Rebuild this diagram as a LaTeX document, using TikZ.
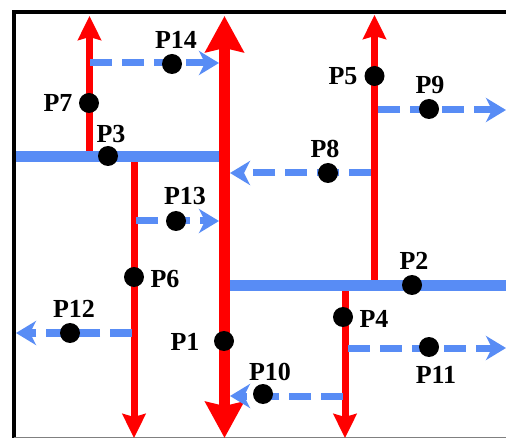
\documentclass[tikz,border=0pt]{standalone}
\usepackage{fontspec}
\setmainfont{Liberation Serif}
\usetikzlibrary{arrows.meta}
\definecolor{flowred}{RGB}{255,0,0}
\definecolor{flowblue}{RGB}{88,140,245}
\begin{document}
\begin{tikzpicture}[x=1pt,y=-1pt,
  dot/.style={circle,fill=black,minimum size=20pt,inner sep=0pt},
  lbl/.style={font=\fontsize{26}{30}\selectfont\bfseries,inner sep=0pt},
  trunk/.style={draw=flowred,line width=11pt,
    {Stealth[length=36pt,width=38pt,inset=4pt]}-{Stealth[length=36pt,width=38pt,inset=4pt]}},
  branch/.style={draw=flowred,line width=7pt},
  branchtip/.style={branch,-{Stealth[length=24pt,width=23pt,inset=3pt]}},
  wall/.style={draw=flowblue,line width=11pt},
  leak/.style={draw=flowblue,line width=7pt,dash pattern=on 22pt off 10pt,
    -{Stealth[length=20pt,width=24pt,inset=6pt]}},
]
\useasboundingbox (0,0) rectangle (506,438);

% frame
\draw[line width=4pt,line join=miter] (14,438) -- (14,12.5) -- (506,12.5);
\draw[gray,line width=1.5pt] (14,437.3) -- (506,437.3);

% junction and end points
\coordinate (ttop) at (224.5,16);
\coordinate (tbot) at (224.5,438);
\coordinate (w3a) at (16,157);
\coordinate (w3b) at (219,157);
\coordinate (w2a) at (230,286);
\coordinate (w2b) at (506,286);
\coordinate (r7a) at (89.5,157);
\coordinate (r7b) at (89.5,16);
\coordinate (r6a) at (134,157);
\coordinate (r6b) at (134,438);
\coordinate (r5a) at (374.5,286);
\coordinate (r5b) at (374.5,15);
\coordinate (r4a) at (345,286);
\coordinate (r4b) at (345,438);
\coordinate (s14a) at (90,63);
\coordinate (s14b) at (219,63);
\coordinate (s13a) at (136,221);
\coordinate (s13b) at (219,221);
\coordinate (s12a) at (132,333);
\coordinate (s12b) at (16,333);
\coordinate (s8a) at (371,173);
\coordinate (s8b) at (230,173);
\coordinate (s9a) at (378,110);
\coordinate (s9b) at (506,110);
\coordinate (s11a) at (348,348);
\coordinate (s11b) at (506,348);
\coordinate (s10a) at (343,396);
\coordinate (s10b) at (230,396);

% red flows
\draw[trunk] (tbot) -- (ttop);
\draw[branchtip] (r7a) -- (r7b);
\draw[branchtip] (r6a) -- (r6b);
\draw[branchtip] (r5a) -- (r5b);
\draw[branchtip] (r4a) -- (r4b);

% blue walls
\draw[wall] (w3a) -- (w3b);
\draw[wall] (w2a) -- (w2b);

% dashed side flows
\draw[leak] (s14a) -- (s14b);
\draw[leak] (s13a) -- (s13b);
\draw[leak] (s12a) -- (s12b);
\draw[leak] (s8a) -- (s8b);
\draw[leak] (s9a) -- (s9b);
\draw[leak] (s11a) -- (s11b);
\draw[leak] (s10a) -- (s10b);

% points
\node[dot] (d1) at (224,341) {};
\node[dot] (d2) at (412,285) {};
\node[dot] (d3) at (108,156) {};
\node[dot] (d4) at (343,317) {};
\node[dot] (d5) at (374.5,76) {};
\node[dot] (d6) at (134,277) {};
\node[dot] (d7) at (89,103) {};
\node[dot] (d8) at (328,173) {};
\node[dot] (d9) at (429,109) {};
\node[dot] (d10) at (263,394) {};
\node[dot] (d11) at (429,347) {};
\node[dot] (d12) at (70,333) {};
\node[dot] (d13) at (176,221) {};
\node[dot] (d14) at (172,64) {};

% labels
\node[lbl] (l1) at (185,342) {P1};
\node[lbl] (l2) at (414,261) {P2};
\node[lbl] (l3) at (111,134) {P3};
\node[lbl] (l4) at (374,319) {P4};
\node[lbl] (l5) at (343,76) {P5};
\node[lbl] (l6) at (165,279) {P6};
\node[lbl] (l7) at (58,103) {P7};
\node[lbl] (l8) at (325,149) {P8};
\node[lbl] (l9) at (430,85) {P9};
\node[lbl] (l10) at (270,372) {P10};
\node[lbl] (l11) at (436,375) {P11};
\node[lbl] (l12) at (74,309) {P12};
\node[lbl] (l13) at (185,196) {P13};
\node[lbl] (l14) at (176,40) {P14};
\end{tikzpicture}
\end{document}
